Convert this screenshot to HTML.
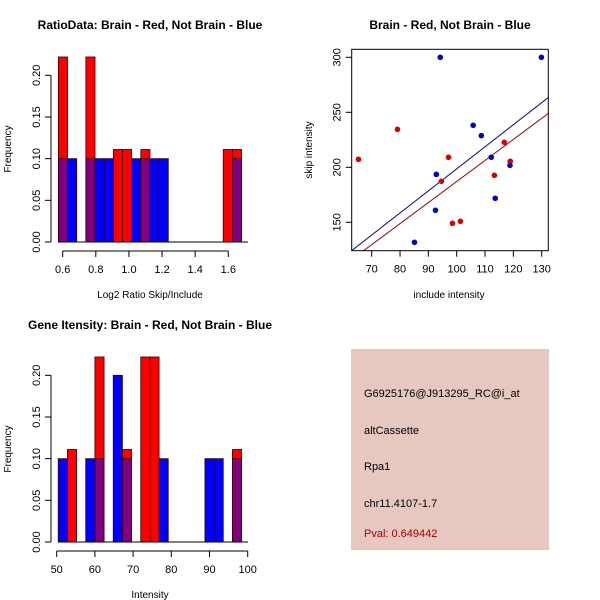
<!DOCTYPE html>
<html><head><meta charset="utf-8"><style>
body{margin:0;background:#fff}
svg{display:block;font-family:"Liberation Sans",sans-serif}
</style></head><body>
<svg id="c" width="600" height="600" xmlns="http://www.w3.org/2000/svg">
<text x="150" y="29" text-anchor="middle" font-size="12" font-weight="bold">RatioData: Brain - Red, Not Brain - Blue</text>
<text x="450" y="29" text-anchor="middle" font-size="12" font-weight="bold">Brain - Red, Not Brain - Blue</text>
<text x="150" y="329" text-anchor="middle" font-size="12" font-weight="bold">Gene Itensity: Brain - Red, Not Brain - Blue</text>
<g id="h1"></g>
<g id="h2"></g>
<g id="sc"></g>
<g>
<rect x="351" y="349" width="198" height="201" fill="#e6c8c0"/>
<text x="364" y="397" font-size="11">G6925176@J913295_RC@i_at</text>
<text x="364" y="434" font-size="11">altCassette</text>
<text x="364" y="470" font-size="11">Rpa1</text>
<text x="364" y="507" font-size="11">chr11.4107-1.7</text>
<text x="364" y="537" font-size="11" fill="#a00000">Pval: 0.649442</text>
</g>
</svg>
<script>
// Ratio histogram data
const ratioBinStart = 0.574, ratioBinWidth = 0.0553;
const ratioRed = [0.222,0,0,0.222,0,0,0.111,0.111,0,0.111,0,0,0,0,0,0,0,0,0.111,0.111];
const ratioBlue = [0.1,0.1,0,0.1,0.1,0.1,0,0,0.1,0.1,0.1,0.1,0,0,0,0,0,0,0,0.1];
const ratioXTicks = [0.6,0.8,1.0,1.2,1.4,1.6];
// Intensity histogram data
const intBinStart = 50.4, intBinWidth = 2.4;
const intRed = [0,0.111,0,0,0.222,0,0,0.111,0,0.222,0.222,0,0,0,0,0,0,0,0,0.111];
const intBlue = [0.1,0,0,0.1,0.1,0,0.2,0.1,0,0,0,0.1,0,0,0,0,0.1,0.1,0,0.1];
const intXTicks = [50,60,70,80,90,100];
const freqTicks = [0,0.05,0.10,0.15,0.20];
const freqLabels = ["0.00","0.05","0.10","0.15","0.20"];
// Scatter data
const blueX = [94.2,129.9,105.8,108.7,112.2,118.8,92.8,113.6,92.5,85.1];
const blueY = [300,300,238.2,228.8,209.1,201.8,193.6,171.8,160.9,131.8];
const redX = [65.3,79.1,97.1,94.6,113.3,116.8,118.9,98.5,101.3];
const redY = [207.3,234.5,209.1,187.3,192.7,222.7,205.5,149.1,150.9];
const blueFit = [-2.0, 2.006]; // intercept, slope
const redFit = [-4.2, 1.913];
const scXTicks = [70,80,90,100,110,120,130];
const scYTicks = [150,200,250,300];

const NS="http://www.w3.org/2000/svg";
function mk(parent,tag,attrs,txt){const e=document.createElementNS(NS,tag);for(const k in attrs)e.setAttribute(k,attrs[k]);if(txt!==undefined)e.textContent=txt;parent.appendChild(e);return e;}

function hist(g, oy, x0, x1, v0, v1, binStart, binW, red, blue, xticks, xlabel){
  const sx=v=>x0+(v-v0)/(v1-v0)*(x1-x0);
  const sy=f=>oy-f*833.4;
  for(let i=0;i<red.length;i++){
    const a=sx(binStart+i*binW), b=sx(binStart+(i+1)*binW);
    const r=red[i], bl=blue[i];
    if(r===0&&bl===0) continue;
    const lo=Math.min(r,bl), hi=Math.max(r,bl);
    const top = hi===r ? '#ff0000' : '#0000ff';
    let e=mk(g,'rect',{x:a,y:sy(hi),width:b-a,height:sy(0)-sy(hi),fill:top,stroke:'#300',"stroke-width":0.8});
    
    
    if(lo>0){
      e=mk(g,'rect',{x:a,y:sy(lo),width:b-a,height:sy(0)-sy(lo),fill:'#800080',stroke:'#300',"stroke-width":0.8});
      
      
    }
  }
  mk(g,'line',{x1:58,y1:oy,x2:248,y2:oy,stroke:'#000'});
  mk(g,'line',{x1:51,y1:sy(0),x2:51,y2:sy(0.2),stroke:'#000'});
  freqTicks.forEach((t,i)=>{
    mk(g,'line',{x1:45,y1:sy(t),x2:51,y2:sy(t),stroke:'#000'});
    const e=mk(g,'text',{x:0,y:0,"font-size":11,"text-anchor":"middle",transform:`translate(40,${sy(t)}) rotate(-90)`},freqLabels[i]);
    
    
  });
  let e=mk(g,'text',{x:0,y:0,"font-size":10,"text-anchor":"middle",transform:`translate(11,${oy-93}) rotate(-90)`},'Frequency');
  
  
  const ax=oy+9;
  mk(g,'line',{x1:sx(xticks[0]),y1:ax,x2:sx(xticks[xticks.length-1]),y2:ax,stroke:'#000'});
  xticks.forEach(t=>{
    mk(g,'line',{x1:sx(t),y1:ax,x2:sx(t),y2:ax+6,stroke:'#000'});
    const e=mk(g,'text',{x:sx(t),y:ax+22,"font-size":11,"text-anchor":"middle"},Number.isInteger(t)&&t>=10?String(t):t.toFixed(1));
    
    
  });
  e=mk(g,'text',{x:150,y:oy+56,"font-size":10,"text-anchor":"middle"},xlabel);
  
  
}
hist(document.getElementById('h1'),242,62.7,228.3,0.6,1.6,ratioBinStart,ratioBinWidth,ratioRed,ratioBlue,ratioXTicks,'Log2 Ratio Skip/Include');
hist(document.getElementById('h2'),542,56.7,247.7,50,100,intBinStart,intBinWidth,intRed,intBlue,intXTicks,'Intensity');

(function(){
  const g=document.getElementById('sc');
  const L=351.7,R=548.3,T=49.3,B=250.7;
  const sx=v=>371.7+(v-70)*2.833;
  const sy=v=>57.3-(v-300)*1.1;
  const cp=mk(g,'clipPath',{id:'clipSc'});
  mk(cp,'rect',{x:L,y:T,width:R-L,height:B-T});
  const xmin=62.9,xmax=132.4;
  [[blueFit,'#000099'],[redFit,'#aa0000']].forEach(([f,c])=>{
    const e=mk(g,'line',{x1:sx(xmin),y1:sy(f[0]+f[1]*xmin),x2:sx(xmax),y2:sy(f[0]+f[1]*xmax),stroke:c,"stroke-width":1,"clip-path":"url(#clipSc)"});
    
    
  });
  redX.forEach((x,i)=>{
    const e=mk(g,'circle',{cx:sx(x),cy:sy(redY[i]),r:2.8,fill:'#dd0000'});
    
    
  });
  blueX.forEach((x,i)=>{
    const e=mk(g,'circle',{cx:sx(x),cy:sy(blueY[i]),r:2.8,fill:'#0000cc'});
    
    
  });
  mk(g,'rect',{x:L,y:T,width:R-L,height:B-T,fill:'none',stroke:'#000'});
  scXTicks.forEach(t=>{
    mk(g,'line',{x1:sx(t),y1:B,x2:sx(t),y2:B+6,stroke:'#000'});
    const e=mk(g,'text',{x:sx(t),y:B+22,"font-size":11,"text-anchor":"middle"},String(t));
    
    
  });
  scYTicks.forEach(t=>{
    mk(g,'line',{x1:L-6,y1:sy(t),x2:L,y2:sy(t),stroke:'#000'});
    const e=mk(g,'text',{x:0,y:0,"font-size":11,"text-anchor":"middle",transform:`translate(${L-11},${sy(t)}) rotate(-90)`},String(t));
    
    
  });
  let e=mk(g,'text',{x:449,y:298,"font-size":10,"text-anchor":"middle"},'include intensity');
  
  
  e=mk(g,'text',{x:0,y:0,"font-size":10,"text-anchor":"middle",transform:`translate(312,150) rotate(-90)`},'skip intensity');
  
  
})();
</script>
</body></html>
